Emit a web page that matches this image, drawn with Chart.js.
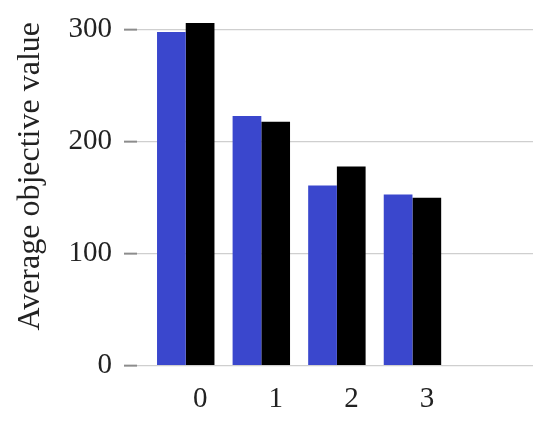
<!DOCTYPE html>
<html>
<head>
<meta charset="utf-8">
<script src="https://cdn.jsdelivr.net/npm/chart.js@4/dist/chart.umd.min.js"></script>
<style>
  html, body { margin: 0; padding: 0; background: #ffffff; }
  #wrap { width: 550px; height: 422px; }
</style>
</head>
<body>
<div id="wrap"><canvas id="c" width="550" height="422"></canvas></div>
<script>
const categories = [0, 1, 2, 3];
const seriesBlue = [298, 223, 161, 153];
const seriesBlack = [306, 218, 178, 150];
const yTicks = [0, 100, 200, 300];
const yTitle = 'Average objective value';

const serif = 'Liberation Serif';

new Chart(document.getElementById('c'), {
  type: 'bar',
  data: {
    datasets: [
      {
        label: 'A',
        data: categories.map((c, i) => ({ x: c, y: seriesBlue[i] })),
        backgroundColor: '#3a47cd',
        borderWidth: 0
      },
      {
        label: 'B',
        data: categories.map((c, i) => ({ x: c, y: seriesBlack[i] })),
        backgroundColor: '#000000',
        borderWidth: 0
      }
    ]
  },
  options: {
    responsive: false,
    animation: false,
    categoryPercentage: 0.76,
    barPercentage: 1.0,
    layout: { padding: { left: 0, right: 17, top: 22, bottom: 0 } },
    plugins: { legend: { display: false }, tooltip: { enabled: false } },
    scales: {
      x: {
        type: 'linear',
        offset: false,
        min: -0.645,
        max: 4.595,
        afterBuildTicks: (s) => { s.ticks = categories.map(v => ({ value: v })); },
        afterFit: (s) => { s.height = 56.3; s.paddingLeft = 0; s.paddingRight = 0; },
        grid: { display: false, drawTicks: false, tickLength: 0 },
        border: { display: false },
        ticks: {
          font: { family: serif, size: 29 },
          color: '#222222',
          padding: 16,
          labelOffset: 14.5,
          maxRotation: 0,
          autoSkip: false
        }
      },
      y: {
        min: 0,
        max: 307,
        afterBuildTicks: (s) => { s.ticks = yTicks.map(v => ({ value: v })); },
        afterFit: (s) => { s.width = 137; s.paddingTop = 0; s.paddingBottom = 0; },
        border: { display: false },
        grid: {
          color: '#cfcfcf',
          lineWidth: 1.3,
          drawTicks: true,
          tickLength: 13,
          tickColor: '#8c8c8c',
          tickWidth: 2
        },
        ticks: {
          font: { family: serif, size: 29 },
          color: '#222222',
          padding: 12
        },
        title: {
          display: true,
          text: yTitle,
          align: 'end',
          font: { family: serif, size: 32 },
          color: '#222222',
          padding: { top: 11, bottom: 0 }
        }
      }
    }
  }
});
</script>
</body>
</html>
